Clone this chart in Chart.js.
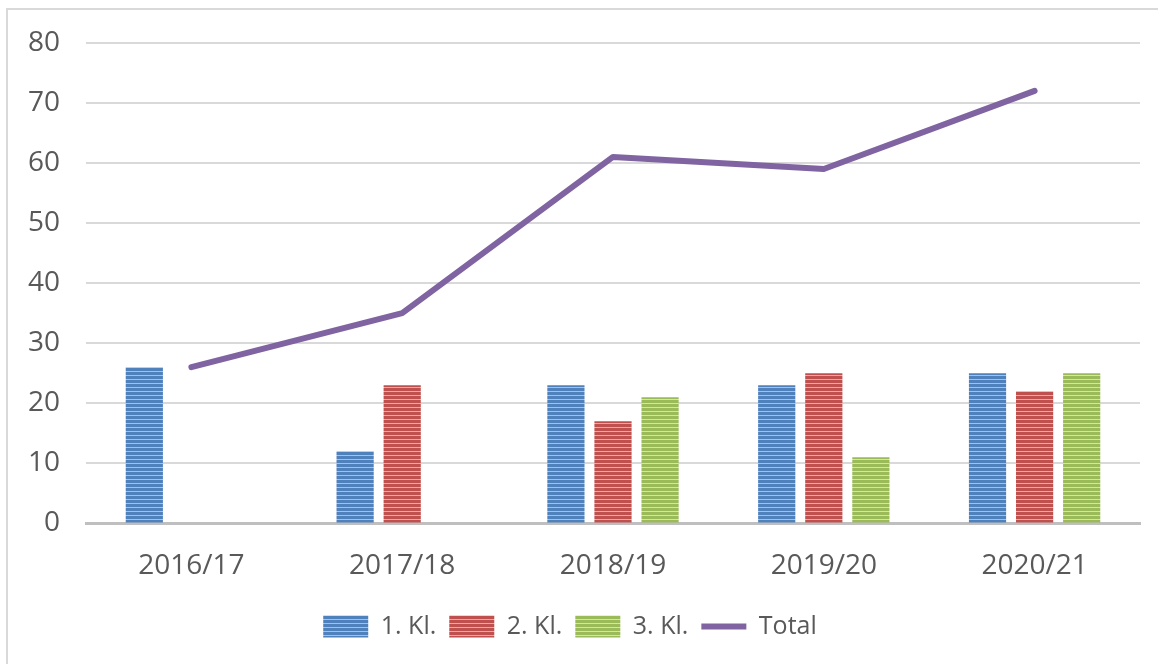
<!DOCTYPE html>
<html>
<head>
<meta charset="utf-8">
<script src="https://cdn.jsdelivr.net/npm/chart.js@4.4.1/dist/chart.umd.min.js"></script>
<style>
  html, body { margin: 0; padding: 0; background: #fff; overflow: hidden; }
  #wrap { position: relative; width: 1158px; height: 664px; }
  #frame { position: absolute; left: 6px; top: 8px; width: 1200px; height: 700px;
           border-left: 2px solid #d9d9d9; border-top: 2px solid #d9d9d9; }
  canvas { position: absolute; left: 0; top: 0; }
</style>
</head>
<body>
<div id="wrap">
  <div id="frame"></div>
  <canvas id="chart" width="1158" height="664"></canvas>
</div>
<script>
const years = ['2016/17', '2017/18', '2018/19', '2019/20', '2020/21'];
const kl1 = [26, 12, 23, 23, 25];
const kl2 = [null, 23, 17, 25, 22];
const kl3 = [null, null, 21, 11, 25];
const total = [26, 35, 61, 59, 72];
const yTicks = [0, 10, 20, 30, 40, 50, 60, 70, 80];

function stripes(main, light) {
    const c = document.createElement('canvas');
    c.width = 4;
    c.height = 4;
    const g = c.getContext('2d');
    g.fillStyle = main;
    g.fillRect(0, 0, 4, 4);
    g.fillStyle = light;
    g.fillRect(0, 3, 4, 1);
    return g.createPattern(c, 'repeat');
}

const ctx = document.getElementById('chart').getContext('2d');
const blue = stripes('#4f81bd', '#a7c0e2');
const red = stripes('#c0504d', '#e6aaa8');
const green = stripes('#9bbb59', '#d3e3b3');

Chart.defaults.font.family = '"Open Sans", sans-serif';
Chart.defaults.color = '#595959';

new Chart(ctx, {
    type: 'bar',
    data: {
        labels: years,
        datasets: [
            { label: 'Total', type: 'line', data: total, borderColor: '#8064a2', backgroundColor: '#8064a2',
              borderWidth: 6, pointRadius: 0, borderCapStyle: 'round', borderJoinStyle: 'round',
              tension: 0, order: 0, pointStyle: 'line' },
            { label: '1. Kl.', data: kl1, backgroundColor: blue, borderWidth: 0, order: 1, pointStyle: 'rect' },
            { label: '2. Kl.', data: kl2, backgroundColor: red, borderWidth: 0, order: 1, pointStyle: 'rect' },
            { label: '3. Kl.', data: kl3, backgroundColor: green, borderWidth: 0, order: 1, pointStyle: 'rect' }
        ]
    },
    options: {
        responsive: false,
        animation: false,
        datasets: { bar: { categoryPercentage: 0.67, barPercentage: 0.79 } },
        layout: { padding: { top: 41, right: 18, left: 0, bottom: 15 } },
        plugins: {
            tooltip: { enabled: false },
            legend: {
                position: 'bottom',
                labels: {
                    usePointStyle: true,
                    pointStyleWidth: 45,
                    boxHeight: 22,
                    padding: 13,
                    font: { size: 25 },
                    color: '#595959',
                    sort: (a, b) => (a.text === 'Total') - (b.text === 'Total')
                }
            }
        },
        scales: {
            x: {
                grid: { display: false },
                border: { color: '#bfbfbf', width: 3 },
                ticks: { font: { size: 28 }, padding: 18, color: '#595959' }
            },
            y: {
                min: 0,
                max: 80,
                afterFit: s => { s.width = 86; },
                afterBuildTicks: s => { s.ticks = yTicks.map(v => ({ value: v })); },
                grid: { color: '#d9d9d9', lineWidth: 2, drawTicks: false },
                border: { display: false },
                ticks: { font: { size: 28 }, padding: 26, color: '#595959' }
            }
        }
    }
});
</script>
</body>
</html>
